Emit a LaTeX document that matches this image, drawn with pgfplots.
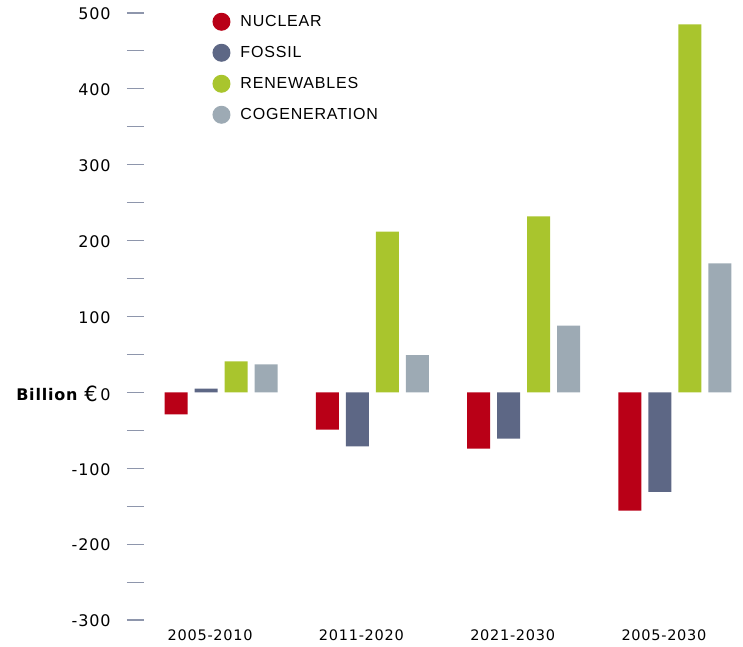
\documentclass[border=0pt]{standalone}
\usepackage{fontspec}
\setmainfont{DejaVu Sans}
\newfontfamily\tickfont[LetterSpace=5]{DejaVu Sans}
\newfontfamily\legfont[LetterSpace=5]{Liberation Sans}
\usepackage{pgfplots}
\pgfplotsset{compat=1.18}

\definecolor{nuclear}{HTML}{B90017}
\definecolor{fossil}{HTML}{5D6785}
\definecolor{renew}{HTML}{A9C52D}
\definecolor{cogen}{HTML}{9DAAB4}
\definecolor{tickc}{HTML}{8E96AC}

\begin{document}
\begin{tikzpicture}
\begin{axis}[
    at={(0pt,0pt)}, anchor=south west,
    scale only axis,
    width=599pt, height=607pt,
    ybar=7pt, bar width=23pt,
    xmin=-0.51, xmax=3.45,
    ymin=-300, ymax=500,
    axis x line*=bottom, axis y line*=left,
    axis line style={draw=none},
    xtick={0,1,2,3},
    xticklabels={2005-2010,2011-2020,2021-2030,2005-2030},
    x tick style={draw=none},
    major x tick style={draw=none},
    xticklabel style={font=\fontsize{14.5}{16}\tickfont, xshift=-11pt, yshift=11pt},
    ytick={-300,-200,...,500},
    minor ytick={-250,-150,...,450},
    yticklabels={-300,-200,-100,{\textbf{Billion} {\fontsize{21}{21}\selectfont\raisebox{-1pt}{€}}\,0},100,200,300,400,500},
    yticklabel style={font=\fontsize{16}{18}\tickfont, xshift=-13pt, yshift=-1pt},
    y tick style={draw=tickc, line width=1.1pt},
    tick align=outside,
    major tick length=17pt, minor tick length=17pt,
    legend image code/.code={\fill[#1, draw=none] (0pt,0pt) circle (9pt);},
    legend style={at={(0.109,1.004)}, anchor=north west, draw=none,
        font=\fontsize{16}{18}\legfont, row sep=13pt,
        /tikz/every odd column/.append style={column sep=8pt}},
    legend cell align=left,
]
\addplot[fill=nuclear, draw=none] coordinates {(0,-29) (1,-49) (2,-74) (3,-156)};
\addplot[fill=fossil, draw=none] coordinates {(0,5) (1,-71) (2,-61) (3,-131)};
\addplot[fill=renew, draw=none] coordinates {(0,41) (1,212) (2,232) (3,485)};
\addplot[fill=cogen, draw=none] coordinates {(0,37) (1,49) (2,88) (3,170)};
\legend{NUCLEAR,FOSSIL,RENEWABLES,COGENERATION}
\end{axis}
\pgfresetboundingbox
\path[use as bounding box] (-144pt,-26pt) rectangle (599pt,620pt);
\end{tikzpicture}
\end{document}
